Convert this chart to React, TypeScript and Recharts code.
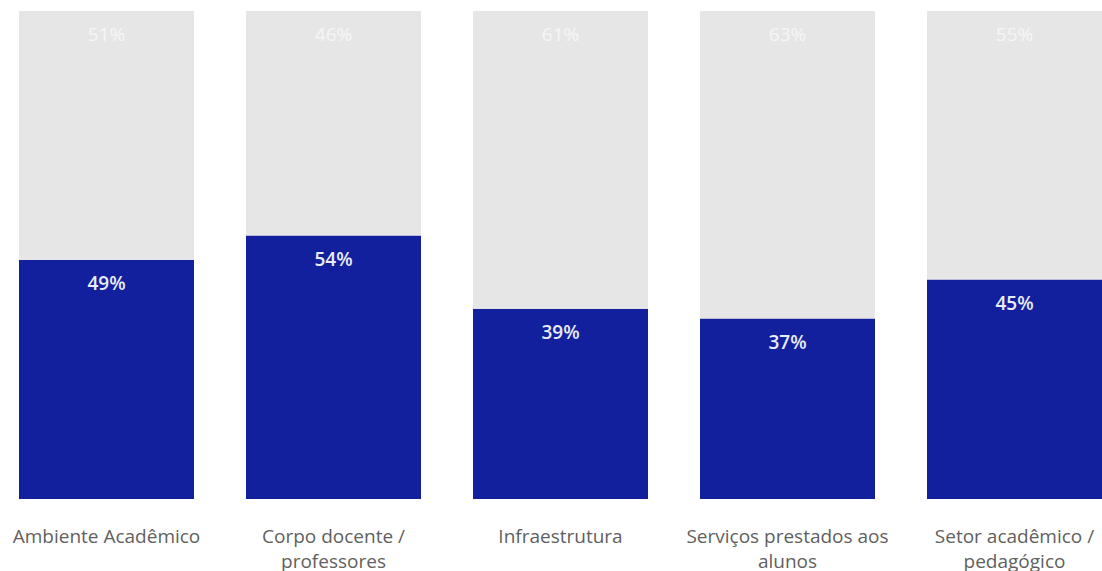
import { Bar, BarChart, LabelList, XAxis, YAxis } from 'recharts';

const categories = [
  'Ambiente Acadêmico',
  'Corpo docente / professores',
  'Infraestrutura',
  'Serviços prestados aos alunos',
  'Setor acadêmico / pedagógico',
];
const favoravel = [49, 54, 39, 37, 45];
const restante = [51, 46, 61, 63, 55];

const data = categories.map((name, i) => ({
  name,
  favoravel: favoravel[i],
  restante: restante[i],
}));

const FONT = '"Open Sans", "Noto Sans", sans-serif';
const MAX_CHARS = 22;

// greedy word wrap, good enough for these short category names
function wrap(label: string): string[] {
  const lines: string[] = [];
  let cur = '';
  for (const word of label.split(' ')) {
    const next = cur ? `${cur} ${word}` : word;
    if (next.length > MAX_CHARS && cur) {
      lines.push(cur);
      cur = word;
    } else {
      cur = next;
    }
  }
  if (cur) lines.push(cur);
  return lines;
}

function CategoryTick(props: any) {
  const { x, y, payload } = props;
  const lines = wrap(String(payload.value));
  return (
    <text
      x={x}
      y={y + 36}
      textAnchor="middle"
      fill="#5f5f5f"
      fontSize={19}
      fontFamily={FONT}
    >
      {lines.map((line, i) => (
        <tspan key={i} x={x} dy={i === 0 ? 0 : 25}>
          {line}
        </tspan>
      ))}
    </text>
  );
}

export default function App() {
  return (
    <div
      style={{
        position: 'absolute',
        top: 0,
        left: 0,
        width: 1102,
        height: 571,
        overflow: 'hidden',
        background: '#fff',
      }}
    >
      <div style={{ position: 'absolute', top: 0, left: -7 }}>
        <BarChart
          width={1135}
          height={571}
          data={data}
          margin={{ top: 11, right: 0, bottom: 0, left: 0 }}
        >
          <XAxis
            dataKey="name"
            axisLine={false}
            tickLine={false}
            height={72}
            interval={0}
            tick={<CategoryTick />}
          />
          <YAxis hide domain={[0, 100]} />
          <Bar dataKey="favoravel" stackId="s" fill="#12209E" barSize={175} isAnimationActive={false}>
            <LabelList
              dataKey="favoravel"
              position="insideTop"
              offset={17}
              formatter={(v: any) => `${v}%`}
              fill="#e9ecf7"
              fontSize={19}
              fontWeight={600}
              fontFamily={FONT}
            />
          </Bar>
          <Bar dataKey="restante" stackId="s" fill="#E6E6E6" barSize={175} isAnimationActive={false}>
            <LabelList
              dataKey="restante"
              position="insideTop"
              offset={17}
              formatter={(v: any) => `${v}%`}
              fill="#f6f6f6"
              fontSize={19}
              fontFamily={FONT}
            />
          </Bar>
        </BarChart>
      </div>
    </div>
  );
}
